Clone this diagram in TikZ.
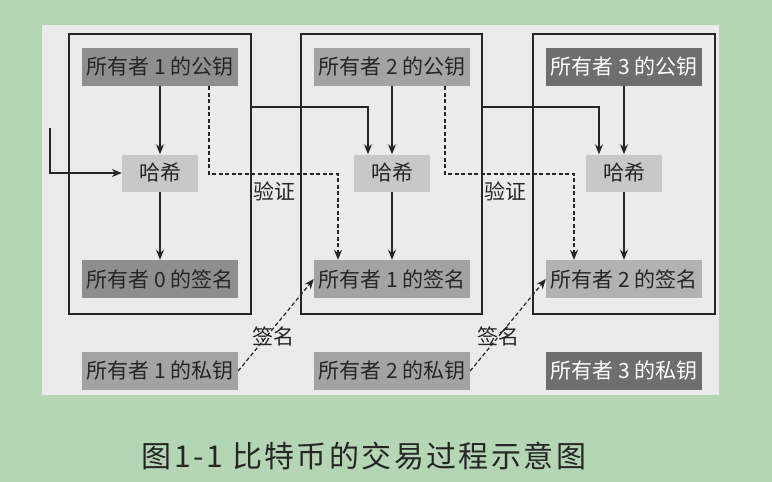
\documentclass[tikz,border=0pt]{standalone}
\usepackage{fontspec}
\newfontfamily\cjk{Noto Sans CJK SC}
\newfontfamily\cjkwide[LetterSpace=8]{Noto Sans CJK SC}
\usetikzlibrary{arrows.meta}

\definecolor{pagegreen}{HTML}{B5D6B5}
\definecolor{panelgrey}{HTML}{EBEBEB}
\definecolor{hashgrey}{HTML}{C8C8C8}
\definecolor{darkgrey}{HTML}{8E8E8E}
\definecolor{midgrey}{HTML}{A3A3A3}
\definecolor{lightgrey}{HTML}{B2B2B2}
\definecolor{deepgrey}{HTML}{6E6E6E}
\definecolor{inkgrey}{HTML}{262626}

\tikzset{
  txbox/.style={draw=inkgrey, line width=1.4pt},
  keybox/.style={rectangle, inner sep=0pt, minimum width=156pt, minimum height=38pt,
    text=inkgrey, font=\cjk\fontsize{21}{21}\selectfont},
  hashbox/.style={keybox, minimum width=76pt, minimum height=37pt, fill=hashgrey},
  flow/.style={-{Stealth[length=10pt,width=8pt]}, line width=1.1pt, draw=inkgrey},
  check/.style={flow, line width=1.2pt, dash pattern=on 4pt off 2.5pt},
  tag/.style={text=inkgrey, font=\cjk\fontsize{21}{21}\selectfont}
}

\begin{document}
\begin{tikzpicture}[x=1pt, y=-1pt]
    \useasboundingbox[fill=pagegreen] (0,0) rectangle (772,482);
    \fill[panelgrey] (42,25) rectangle (719,395);

    % the three transactions
    \node[txbox, minimum width=182pt, minimum height=280pt] (box1) at (160,174) {};
    \node[txbox, minimum width=181pt, minimum height=280pt] (box2) at (391.5,174) {};
    \node[txbox, minimum width=182pt, minimum height=280pt] (box3) at (624,174) {};

    \node[keybox, fill=darkgrey] (pub1) at (160,67) {所有者 1 的公钥};
    \node[hashbox] (hash1) at (160,173) {哈希};
    \node[keybox, fill=darkgrey] (sig0) at (160,279) {所有者 0 的签名};
    \node[keybox, fill=midgrey] (priv1) at (160,371) {所有者 1 的私钥};

    \node[keybox, fill=midgrey] (pub2) at (392,67) {所有者 2 的公钥};
    \node[hashbox] (hash2) at (392,173) {哈希};
    \node[keybox, fill=midgrey] (sig1) at (392,279) {所有者 1 的签名};
    \node[keybox, fill=midgrey] (priv2) at (392,371) {所有者 2 的私钥};

    \node[keybox, fill=deepgrey, text=white] (pub3) at (624,67) {所有者 3 的公钥};
    \node[hashbox] (hash3) at (624,173) {哈希};
    \node[keybox, fill=lightgrey] (sig2) at (624,279) {所有者 2 的签名};
    \node[keybox, fill=deepgrey, text=white] (priv3) at (624,371) {所有者 3 的私钥};

    % bends of the connectors
    \coordinate (start) at (50,128);
    \coordinate (link2) at (368,107);
    \coordinate (link3) at (599,107);
    \coordinate (ver1) at (209,174);
    \coordinate (ver1e) at (338,174);
    \coordinate (ver2) at (445,174);
    \coordinate (ver2e) at (574,174);

    \draw[flow] (start) |- (hash1.west);
    \draw[flow] (pub1) -- (hash1);
    \draw[flow] (hash1) -- (sig0);

    \draw[flow] (box1.east |- link2) -- (link2) -- (link2 |- hash2.north);
    \draw[flow] (pub2) -- (pub2 |- hash2.north);
    \draw[flow] (hash2) -- (sig1);

    \draw[flow] (box2.east |- link3) -- (link3) -- (link3 |- hash3.north);
    \draw[flow] (pub3) -- (pub3 |- hash3.north);
    \draw[flow] (hash3) -- (sig2);

    \draw[check] (ver1 |- pub1.south) -- (ver1) -- (ver1e) -- (ver1e |- sig1.north);
    \draw[check] (ver2 |- pub2.south) -- (ver2) -- (ver2e) -- (ver2e |- sig2.north);
    \draw[check] (priv1.east) -- (sig1.west);
    \draw[check] (priv2.east) -- (sig2.west);

    \node[tag] (verify1) at (274,191) {验证};
    \node[tag] (verify2) at (505,191) {验证};
    \node[tag] (sign1) at (273,336) {签名};
    \node[tag] (sign2) at (498,336) {签名};

    \node[text=inkgrey, font=\cjkwide\fontsize{30}{30}\selectfont] (caption) at (364,456) {图1-1 比特币的交易过程示意图};
\end{tikzpicture}
\end{document}
